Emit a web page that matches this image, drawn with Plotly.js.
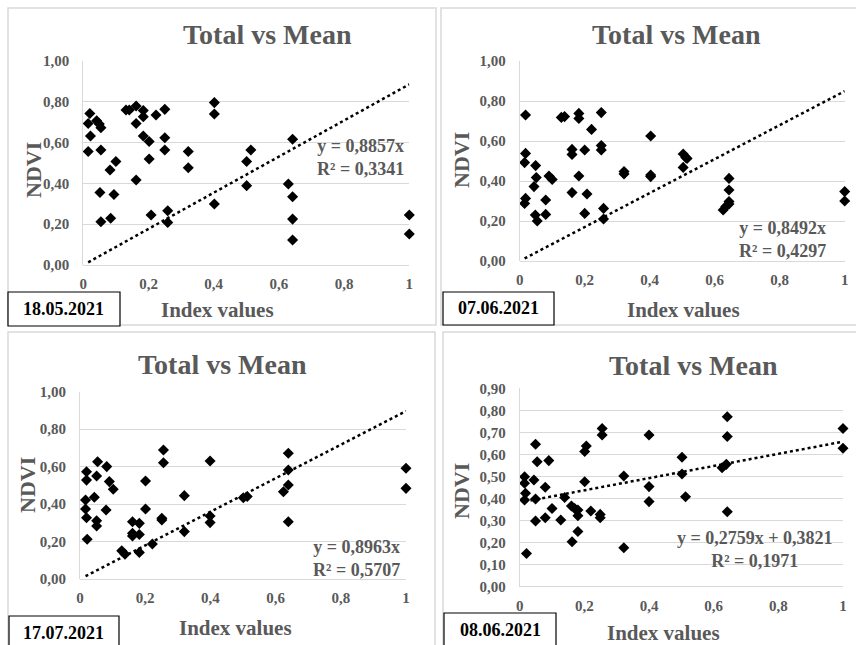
<!DOCTYPE html>
<html>
<head>
<meta charset="utf-8">
<script src="https://cdn.plot.ly/plotly-3.0.1.min.js"></script>
<style>html,body{margin:0;padding:0;background:#fff;}#chart{width:856px;height:645px;}</style>
</head>
<body>
<div id="chart"></div>
<script>
// ---- Data ----
var panelDates = ["18.05.2021", "07.06.2021", "17.07.2021", "08.06.2021"];
var chartTitle = "Total vs Mean";
var xTitle = "Index values";
var yTitle = "NDVI";

var p1X = [0.015,0.015,0.02,0.022,0.041,0.049,0.054,0.054,0.051,0.054,0.082,0.084,0.094,0.10,0.131,0.141,0.162,0.162,0.162,0.184,0.184,0.184,0.202,0.202,0.208,0.223,0.25,0.25,0.25,0.259,0.259,0.322,0.322,0.402,0.402,0.402,0.501,0.501,0.514,0.629,0.642,0.642,0.642,0.642,1.0,1.0];
var p1Y = [0.556,0.694,0.743,0.632,0.707,0.691,0.673,0.564,0.355,0.212,0.466,0.229,0.346,0.507,0.760,0.760,0.779,0.694,0.417,0.757,0.727,0.632,0.605,0.520,0.245,0.735,0.763,0.624,0.564,0.266,0.208,0.556,0.477,0.796,0.740,0.299,0.507,0.389,0.564,0.397,0.616,0.335,0.225,0.123,0.245,0.152];

var p2X = [0.018,0.018,0.015,0.018,0.015,0.049,0.051,0.044,0.048,0.054,0.08,0.08,0.09,0.10,0.128,0.138,0.161,0.161,0.161,0.182,0.182,0.182,0.20,0.207,0.20,0.221,0.251,0.251,0.251,0.258,0.258,0.321,0.321,0.403,0.403,0.403,0.503,0.511,0.515,0.503,0.626,0.634,0.644,0.644,0.644,0.644,1.0,1.0];
var p2Y = [0.730,0.538,0.492,0.313,0.288,0.477,0.417,0.372,0.230,0.200,0.305,0.233,0.425,0.408,0.718,0.722,0.558,0.533,0.342,0.738,0.713,0.425,0.555,0.335,0.238,0.658,0.742,0.577,0.555,0.263,0.210,0.447,0.435,0.625,0.430,0.422,0.535,0.518,0.513,0.468,0.255,0.272,0.413,0.355,0.297,0.285,0.347,0.300];

var p3X = [0.02,0.02,0.017,0.017,0.02,0.022,0.054,0.051,0.044,0.051,0.051,0.082,0.08,0.09,0.102,0.128,0.138,0.161,0.161,0.161,0.182,0.182,0.182,0.201,0.201,0.222,0.251,0.251,0.256,0.256,0.32,0.32,0.399,0.399,0.399,0.501,0.513,0.624,0.639,0.639,0.639,0.639,1.0,1.0];
var p3Y = [0.573,0.528,0.422,0.374,0.327,0.212,0.626,0.550,0.436,0.311,0.283,0.600,0.368,0.520,0.479,0.151,0.132,0.306,0.244,0.230,0.297,0.238,0.142,0.523,0.374,0.187,0.324,0.315,0.689,0.621,0.445,0.253,0.630,0.336,0.301,0.434,0.440,0.466,0.671,0.582,0.502,0.306,0.591,0.484];

var p4X = [0.015,0.015,0.018,0.015,0.021,0.044,0.049,0.054,0.049,0.049,0.079,0.079,0.09,0.10,0.127,0.139,0.16,0.162,0.17,0.18,0.18,0.18,0.201,0.201,0.206,0.22,0.249,0.249,0.255,0.255,0.322,0.322,0.40,0.40,0.40,0.502,0.502,0.513,0.626,0.639,0.642,0.642,0.642,1.0,1.0];
var p4Y = [0.499,0.469,0.424,0.393,0.151,0.484,0.646,0.567,0.398,0.298,0.451,0.313,0.572,0.355,0.303,0.405,0.366,0.204,0.355,0.348,0.322,0.250,0.476,0.613,0.638,0.343,0.328,0.313,0.718,0.688,0.502,0.177,0.688,0.454,0.386,0.587,0.511,0.408,0.540,0.555,0.771,0.681,0.340,0.718,0.628];

var trendSlope = [0.8857, 0.8492, 0.8963, 0.2759];
var trendIntercept = [0, 0, 0, 0.3821];
var eqLine1 = ["y = 0,8857x", "y = 0,8492x", "y = 0,8963x", "y = 0,2759x + 0,3821"];
var eqLine2 = ["R² = 0,3341", "R² = 0,4297", "R² = 0,5707", "R² = 0,1971"];
var yMax = [1.0, 1.0, 1.0, 0.9];
var yDtick = [0.2, 0.2, 0.2, 0.1];

// ---- Layout helpers (pixel geometry) ----
var W = 856, H = 645;
function px(x){ return x / W; }
function py(y){ return 1 - y / H; }

var plotBox = [
  {l:83.3, r:409.3, t:61, b:265},
  {l:519.7, r:844.7, t:61, b:261},
  {l:80, r:406, t:391.7, b:579},
  {l:519.7, r:843, t:388.3, b:586.7}
];
var panelBorder = [
  {l:8, r:436, t:8, b:325},
  {l:441, r:862, t:8, b:325},
  {l:8, r:435, t:332, b:652},
  {l:443, r:862, t:332, b:652}
];
var dateBox = [
  {l:8, r:120, t:292, b:326},
  {l:443, r:554, t:292, b:325},
  {l:9, r:119, t:616, b:652},
  {l:444, r:556, t:613, b:652}
];
var titlePos = [[267,35],[676,34],[222,364],[693,365]];
var xTitlePos = [[217,310],[683,310],[235,628],[663,633]];
var yTitlePos = [[33,170],[461,160],[27,485],[461,491]];
var eqPos = [[360,158],[782,239],[356,558],[755,549]];

var xs = [p1X, p2X, p3X, p4X];
var ys = [p1Y, p2Y, p3Y, p4Y];

var gray = "#595959";
var serif = "'Liberation Serif', 'Times New Roman', serif";

var traces = [];
var layout = {
  width: W, height: H,
  margin: {l:0, r:0, t:0, b:0},
  paper_bgcolor: "#ffffff",
  plot_bgcolor: "#ffffff",
  showlegend: false,
  separators: ", ",
  shapes: [],
  annotations: []
};

for (var i = 0; i < 4; i++) {
  var sfx = i === 0 ? "" : String(i + 1);
  var xa = "x" + sfx, ya = "y" + sfx;
  var pb = plotBox[i];
  traces.push({
    type: "scatter", mode: "markers",
    x: xs[i], y: ys[i], xaxis: xa, yaxis: ya,
    cliponaxis: false,
    marker: {symbol: "diamond", size: 8.5, color: "#000000"},
    hoverinfo: "x+y"
  });
  var x0 = Math.min.apply(null, xs[i]);
  traces.push({
    type: "scatter", mode: "lines",
    x: [x0, 1], y: [trendIntercept[i] + trendSlope[i]*x0, trendIntercept[i] + trendSlope[i]*1],
    xaxis: xa, yaxis: ya, cliponaxis: false,
    line: {color: "#000000", width: 2.5, dash: "dot"},
    hoverinfo: "skip"
  });
  layout["xaxis" + sfx] = {
    domain: [px(pb.l), px(pb.r)],
    anchor: ya,
    range: [0, 1], dtick: 0.2, tick0: 0,
    showgrid: false, zeroline: false, showline: false,
    ticks: "", ticklabelstandoff: 8,
    tickfont: {family: serif, size: 15, color: gray, weight: "bold"},
    fixedrange: true
  };
  layout["yaxis" + sfx] = {
    domain: [py(pb.b), py(pb.t)],
    anchor: xa,
    range: [0, yMax[i]], dtick: yDtick[i], tick0: 0,
    tickformat: ".2f",
    showgrid: true, gridcolor: "#d9d9d9", gridwidth: 1,
    zeroline: true, zerolinecolor: "#d9d9d9", zerolinewidth: 1,
    showline: true, linecolor: "#d9d9d9", linewidth: 1,
    ticks: "", ticklabelstandoff: 10,
    tickfont: {family: serif, size: 15, color: gray, weight: "bold"},
    fixedrange: true
  };
  var bd = panelBorder[i];
  layout.shapes.push({type: "rect", xref: "paper", yref: "paper",
    x0: px(bd.l), x1: px(bd.r), y0: py(bd.b), y1: py(bd.t),
    line: {color: "#d9d9d9", width: 1.5}, layer: "below"});
  var db = dateBox[i];
  layout.shapes.push({type: "rect", xref: "paper", yref: "paper",
    x0: px(db.l), x1: px(db.r), y0: py(db.b), y1: py(db.t),
    fillcolor: "#ffffff",
    line: {color: "#000000", width: 1.2}, layer: "above"});
  layout.annotations.push({xref: "paper", yref: "paper",
    x: px((db.l + db.r)/2), y: py((db.t + Math.min(db.b, db.t + 34))/2),
    text: panelDates[i], showarrow: false, xanchor: "center", yanchor: "middle",
    font: {family: serif, size: 18, color: "#000000", weight: "bold"}});
  layout.annotations.push({xref: "paper", yref: "paper",
    x: px(titlePos[i][0]), y: py(titlePos[i][1]),
    text: chartTitle, showarrow: false, xanchor: "center", yanchor: "middle",
    font: {family: serif, size: 28, color: gray, weight: "bold"}});
  layout.annotations.push({xref: "paper", yref: "paper",
    x: px(xTitlePos[i][0]), y: py(xTitlePos[i][1]),
    text: xTitle, showarrow: false, xanchor: "center", yanchor: "middle",
    font: {family: serif, size: 21, color: gray, weight: "bold"}});
  layout.annotations.push({xref: "paper", yref: "paper",
    x: px(yTitlePos[i][0]), y: py(yTitlePos[i][1]),
    text: yTitle, showarrow: false, textangle: -90, xanchor: "center", yanchor: "middle",
    font: {family: serif, size: 22, color: gray, weight: "bold"}});
  layout.annotations.push({xref: "paper", yref: "paper",
    x: px(eqPos[i][0]), y: py(eqPos[i][1]),
    text: eqLine1[i] + "<br>" + eqLine2[i], showarrow: false, align: "center",
    xanchor: "center", yanchor: "middle",
    font: {family: serif, size: 18, color: gray, weight: "bold"}});
}

Plotly.newPlot("chart", traces, layout, {staticPlot: true, displayModeBar: false});
</script>
</body>
</html>
